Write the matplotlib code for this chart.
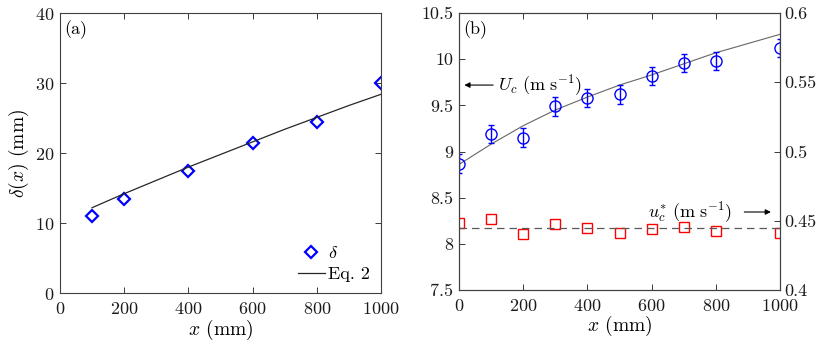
import numpy as np
import matplotlib
matplotlib.use('Agg')
import matplotlib.pyplot as plt

plt.rcParams['font.family'] = 'serif'
plt.rcParams['font.serif'] = ['cmr10']
plt.rcParams['mathtext.fontset'] = 'cm'
plt.rcParams['axes.unicode_minus'] = False
plt.rcParams['axes.formatter.use_mathtext'] = True
plt.rcParams['font.size'] = 13

# (a) espesor delta
xa = [100, 200, 400, 600, 800, 1000]
delta = [11.0, 13.5, 17.5, 21.5, 24.5, 30.0]
xa_eq = [100, 200, 300, 400, 500, 600, 700, 800, 900, 1000]
delta_eq = [12.2, 14.2, 16.1, 18.0, 19.8, 21.6, 23.4, 25.1, 26.8, 28.4]

# (b) velocidades
xb = [0, 100, 200, 300, 400, 500, 600, 700, 800, 1000]
Uc = [8.87, 9.19, 9.15, 9.49, 9.58, 9.62, 9.82, 9.96, 9.98, 10.12]
Uc_err = [0.1] * 10
xb_fit = [0, 100, 200, 300, 400, 500, 600, 700, 800, 900, 1000]
Uc_fit = [8.86, 9.08, 9.28, 9.45, 9.59, 9.72, 9.83, 9.95, 10.07, 10.17, 10.27]
uc_star = [0.4486, 0.4512, 0.4401, 0.4474, 0.4447, 0.4409, 0.4442, 0.4454, 0.4423, 0.4409]
uc_star_mean = 0.4445

axcol = '0.25'

def estilo(ax):
    ax.tick_params(direction='in', top=True, right=True, colors='0.1', length=4,
                   width=0.6, labelsize=13, pad=4)
    ax.tick_params(axis='x', pad=6)
    for s in ax.spines.values():
        s.set_color(axcol)
        s.set_linewidth(0.8)

fig = plt.figure(figsize=(8.17, 3.44), dpi=100)

# Panel (a)
ax1 = fig.add_axes([0.0734, 0.148, 0.393, 0.814])
ax1.plot(xa, delta, 'D', mfc='none', mec='blue', mew=1.6, ms=6.5, label=r'$\delta$')
ax1.plot(xa_eq, delta_eq, '-', color='0.15', lw=0.9, label='Eq. 2')
ax1.set_xlim(0, 1000)
ax1.set_ylim(0, 40)
ax1.set_xticks([0, 200, 400, 600, 800, 1000])
ax1.set_yticks([0, 10, 20, 30, 40])
ax1.set_xlabel(r'$x$ (mm)', fontsize=14, labelpad=0)
ax1.set_ylabel(r'$\delta(x)$ (mm)', fontsize=14, labelpad=3)
ax1.text(0.012, 0.975, '(a)', transform=ax1.transAxes, ha='left', va='top', fontsize=13)
ax1.legend(loc='lower right', frameon=False, handlelength=1.5, handletextpad=0.2,
           borderaxespad=0.2, labelspacing=0.3, fontsize=13)
estilo(ax1)

# Panel (b)
ax2 = fig.add_axes([0.5618, 0.157, 0.393, 0.805])
ax2.plot(xb_fit, Uc_fit, '-', color='0.4', lw=0.8)
ax2.errorbar(xb, Uc, yerr=Uc_err, fmt='o', mfc='none', mec='blue', ecolor='blue',
             ms=8, mew=1.0, elinewidth=1.0, capsize=2)
ax2.set_xlim(0, 1000)
ax2.set_ylim(7.5, 10.5)
ax2.set_xticks([0, 200, 400, 600, 800, 1000])
ax2.set_yticks([7.5, 8, 8.5, 9, 9.5, 10, 10.5])
ax2.set_yticklabels(['7.5', '8', '8.5', '9', '9.5', '10', '10.5'])
ax2.set_xlabel(r'$x$ (mm)', fontsize=14, labelpad=0)
ax2.text(0.012, 0.975, '(b)', transform=ax2.transAxes, ha='left', va='top', fontsize=13)
ax2.annotate('', xy=(8, 9.72), xytext=(115, 9.72),
             arrowprops=dict(arrowstyle='-|>', color='black', lw=0.8, mutation_scale=8))
ax2.text(120, 9.72, r'$U_c\ (\mathrm{m\ s^{-1}})$', ha='left', va='center', fontsize=13)
ax2.text(850, 8.345, r'$u_c^{*}\ (\mathrm{m\ s^{-1}})$', ha='right', va='center', fontsize=13)
ax2.annotate('', xy=(980, 8.345), xytext=(880, 8.345),
             arrowprops=dict(arrowstyle='-|>', color='black', lw=0.8, mutation_scale=8))
estilo(ax2)
ax2.tick_params(right=False)

ax3 = ax2.twinx()
ax3.plot(xb, uc_star, 's', mfc='none', mec='red', ms=6.5, mew=1.0)
ax3.axhline(uc_star_mean, color='0.35', ls=(0, (6, 4)), lw=0.9)
ax3.set_ylim(0.4, 0.6)
ax3.set_yticks([0.4, 0.45, 0.5, 0.55, 0.6])
ax3.set_yticklabels(['0.4', '0.45', '0.5', '0.55', '0.6'])
ax3.tick_params(direction='in', colors='0.1', length=4, width=0.6, labelsize=13, pad=3)
for s in ax3.spines.values():
    s.set_color(axcol)
    s.set_linewidth(0.8)

fig.savefig('out.png', dpi=100)
